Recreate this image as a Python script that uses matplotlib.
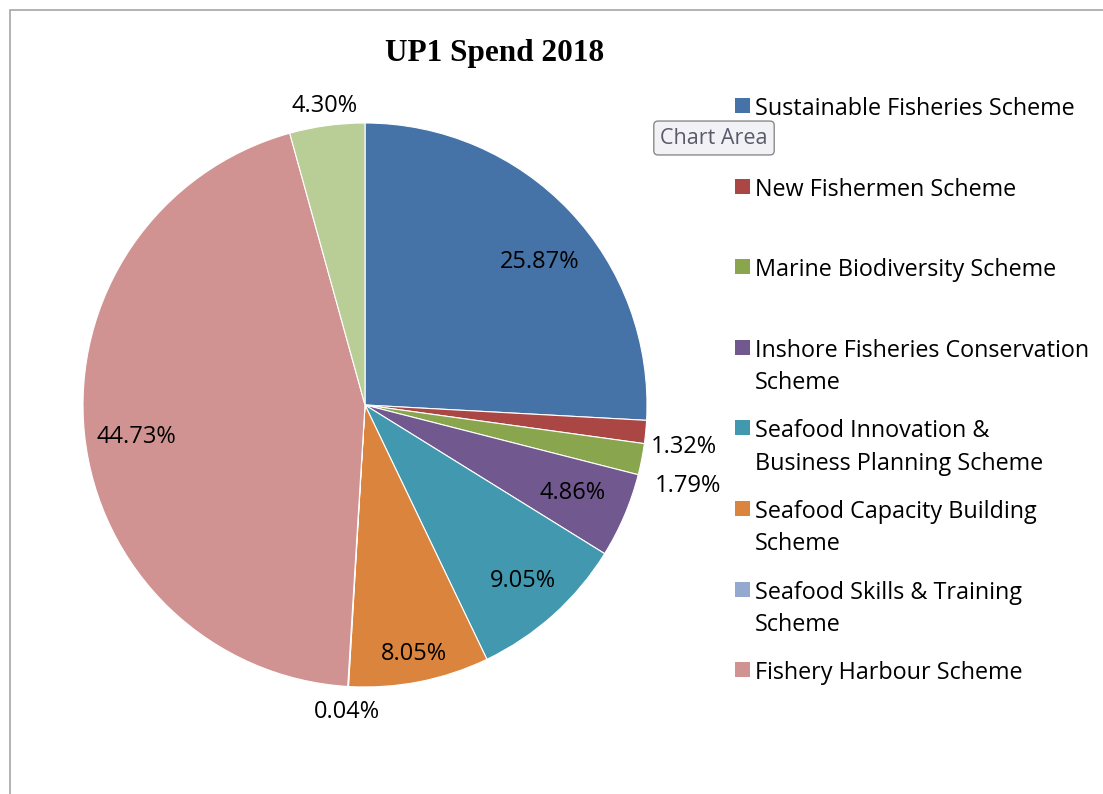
import numpy as np
import matplotlib.pyplot as plt
from matplotlib.patches import Rectangle

categories = ["Sustainable Fisheries Scheme", "New Fishermen Scheme", "Marine Biodiversity Scheme",
              "Inshore Fisheries Conservation Scheme", "Seafood Innovation & Business Planning Scheme",
              "Seafood Capacity Building Scheme", "Seafood Skills & Training Scheme",
              "Fishery Harbour Scheme", "Other"]
legend_labels = ["Sustainable Fisheries Scheme", "New Fishermen Scheme", "Marine Biodiversity Scheme",
                 "Inshore Fisheries Conservation\nScheme", "Seafood Innovation &\nBusiness Planning Scheme",
                 "Seafood Capacity Building\nScheme", "Seafood Skills & Training\nScheme",
                 "Fishery Harbour Scheme"]
shares = [25.87, 1.32, 1.79, 4.86, 9.05, 8.05, 0.04, 44.73, 4.30]
colors = ["#4572A7", "#AA4643", "#89A54E", "#71588F", "#4198AF", "#DB843D", "#93A9CF", "#D19392", "#B9CD96"]

# label placement (radius factor, angle shift in degrees)
label_r = [0.80, 1.14, 1.18, 0.80, 0.84, 0.90, 1.09, 0.82, 1.07]
label_shift = [-4, -2, -3, 0, 0, 0, 0, 2, 0]

W, H = 1103, 794
fig = plt.figure(figsize=(W / 100, H / 100), dpi=100)
plt.rcParams['font.family'] = ['Open Sans', 'DejaVu Sans']

# chart area border
fig.patches.append(Rectangle((10 / W, -0.1), 1.2, (H - 10) / H + 0.1, transform=fig.transFigure,
                             fill=False, edgecolor="#A6A6A6", linewidth=1.2))

cx, cy, r = 365, 405, 282
ax = fig.add_axes([(cx - r) / W, (H - cy - r) / H, 2 * r / W, 2 * r / H])
wedges, _ = ax.pie(shares, colors=colors, startangle=90, counterclock=False,
                   wedgeprops=dict(edgecolor="white", linewidth=0.8))
ax.set_xlim(-1, 1)
ax.set_ylim(-1, 1)
ax.set_aspect('equal')
ax.axis('off')

for w, v, rf, sh in zip(wedges, shares, label_r, label_shift):
    ang = np.deg2rad((w.theta1 + w.theta2) / 2 + sh)
    ax.text(rf * np.cos(ang), rf * np.sin(ang), f"{v:.2f}%", ha='center', va='center',
            fontsize=17, color="#000000", clip_on=False)

fig.text(495 / W, 1 - 53 / H, "UP1 Spend 2018", ha='center', va='center',
         fontsize=22.5, fontweight='bold', family='Liberation Serif')

# legend
y0, step = 106, 80.6
for i, (lab, c) in enumerate(zip(legend_labels, colors)):
    y = y0 + i * step
    fig.patches.append(Rectangle((735 / W, 1 - (y + 7) / H), 15 / W, 15 / H,
                                 transform=fig.transFigure, facecolor=c, edgecolor='none'))
    fig.text(755 / W, 1 - (y - 9) / H, lab, ha='left', va='top', fontsize=16.8,
             linespacing=1.45, transform=fig.transFigure)

# tooltip
fig.text(714 / W, 1 - 138 / H, "Chart Area", ha='center', va='center', fontsize=15.5, color="#5A5A6A",
         bbox=dict(boxstyle='round,pad=0.3,rounding_size=0.2', facecolor="#F2F2F6", edgecolor="#8A8A8A"))

fig.savefig("out.png", dpi=100)
